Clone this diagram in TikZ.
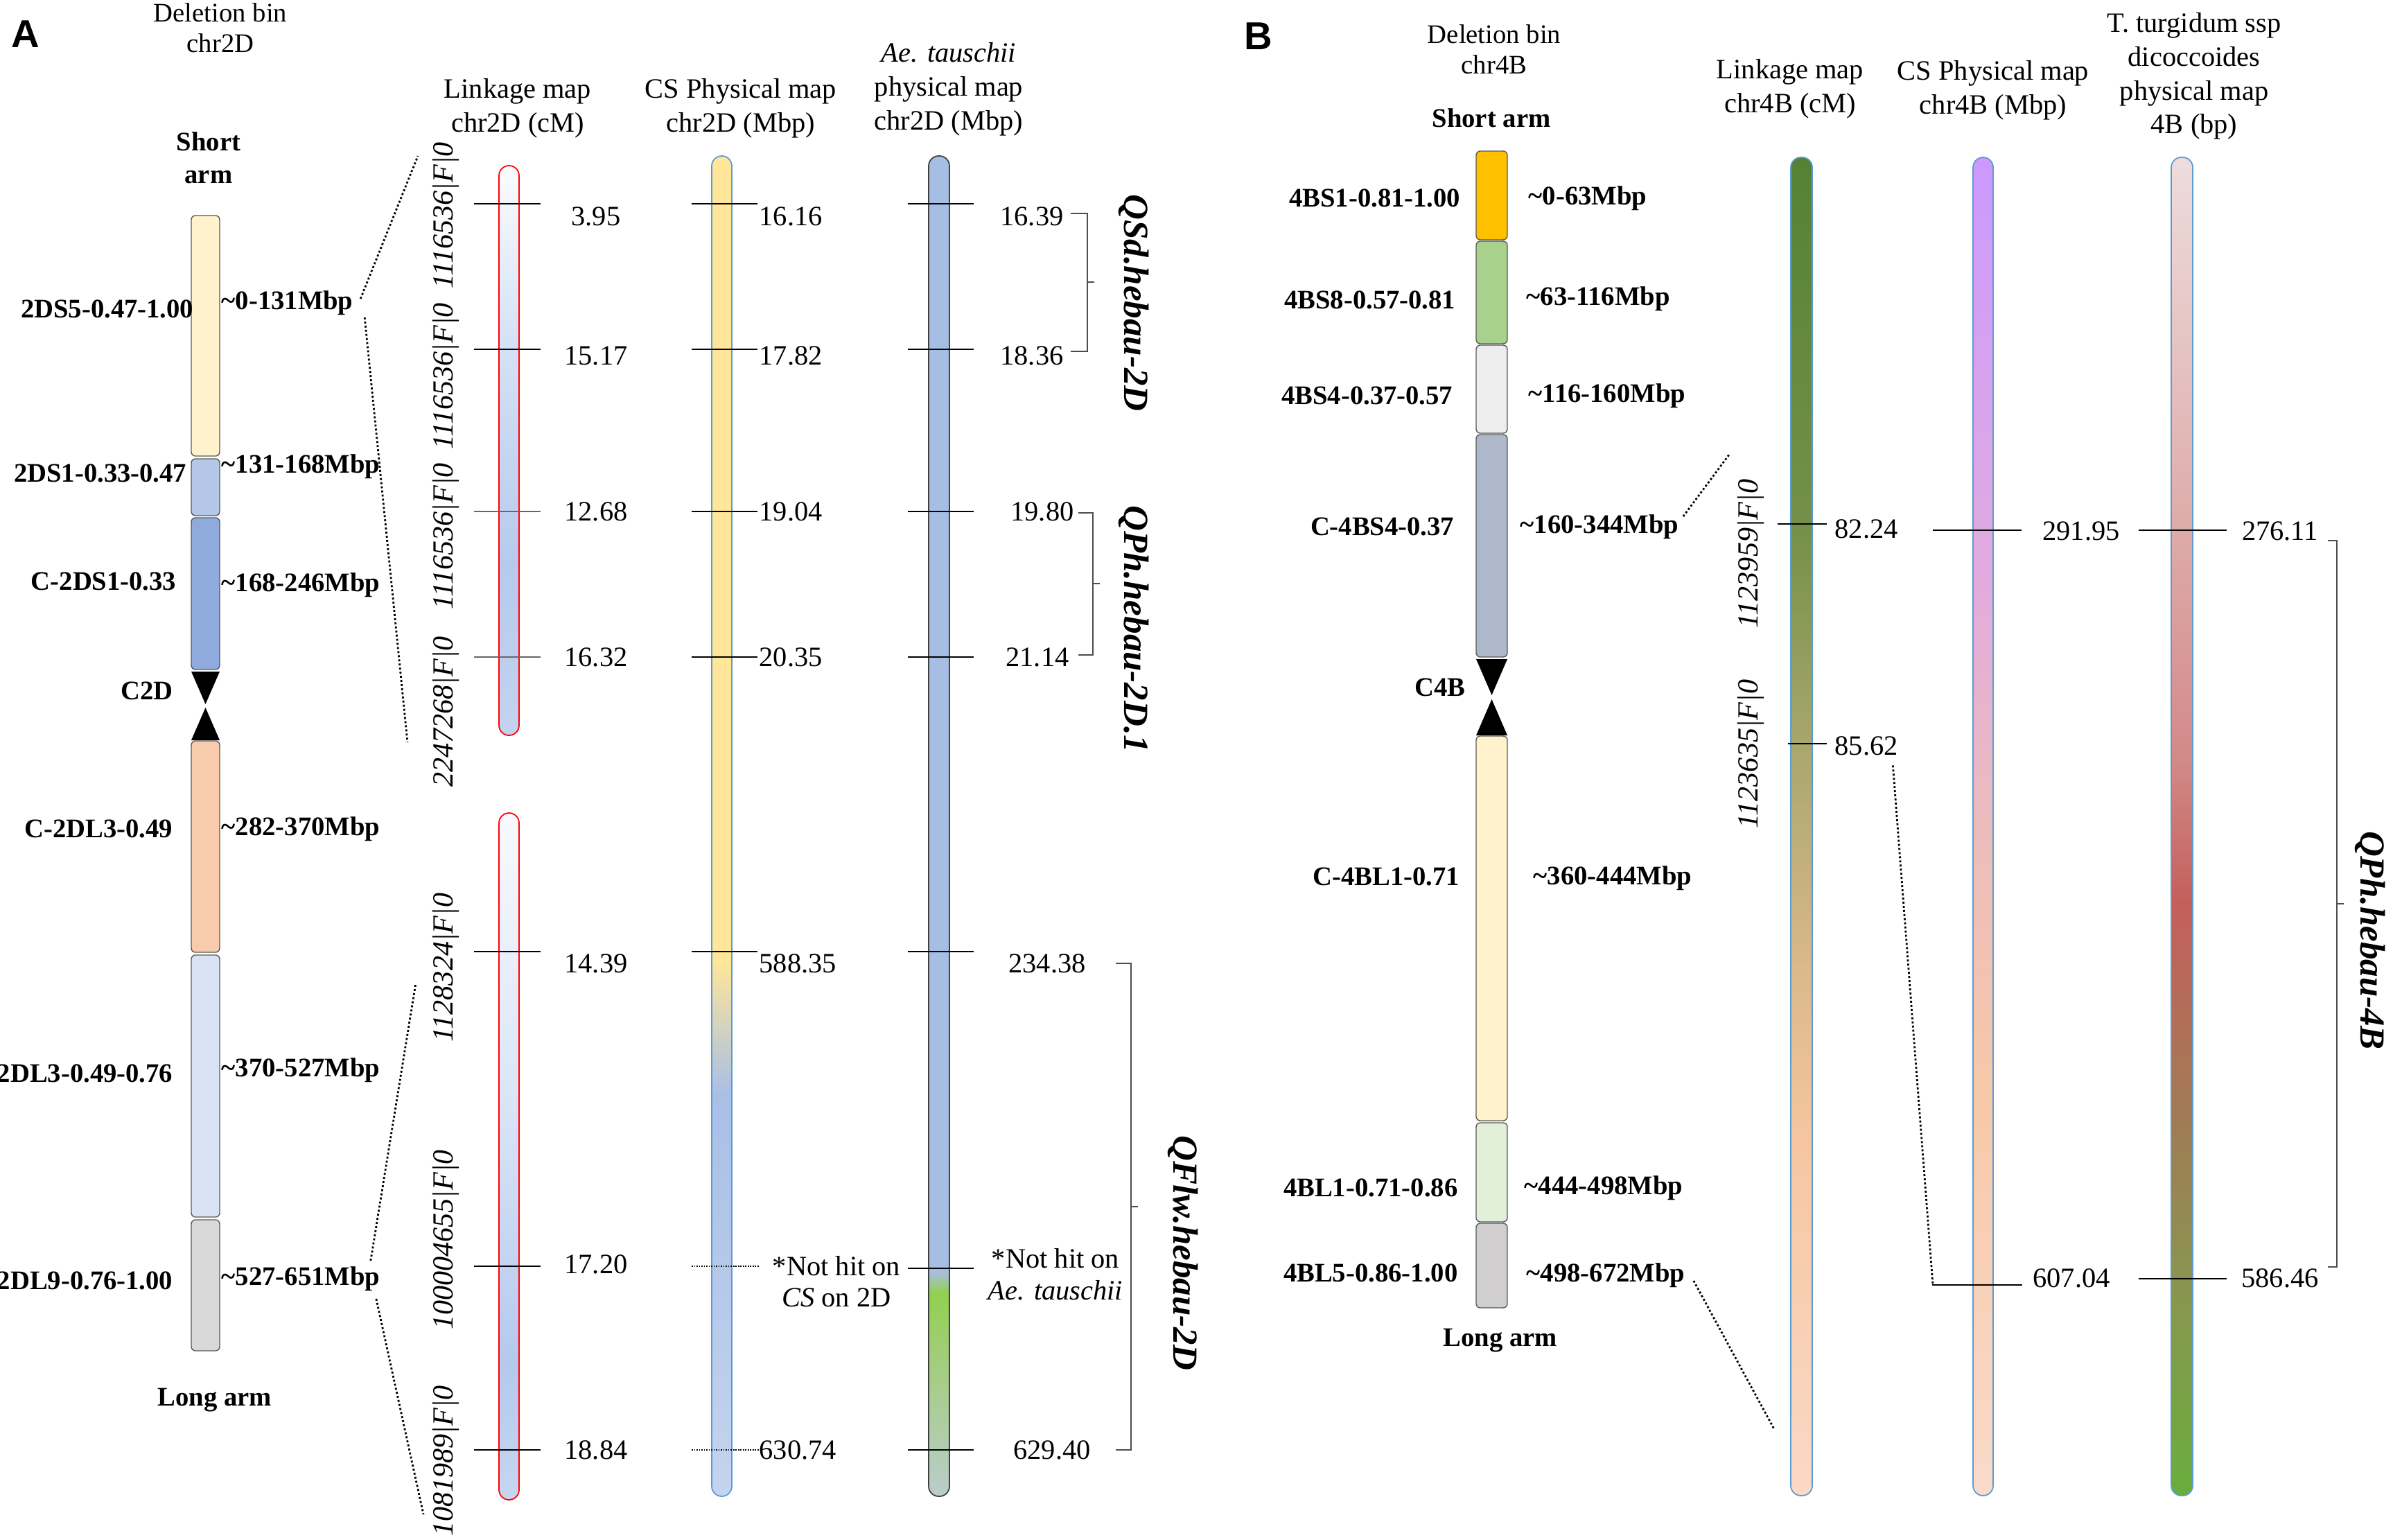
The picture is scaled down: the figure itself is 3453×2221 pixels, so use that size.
\documentclass[tikz,border=0pt]{standalone}
\usepackage{fontspec}
\setmainfont{Liberation Serif}
\newfontfamily\panelfont{Liberation Sans}
\usetikzlibrary{calc,positioning}

% deletion bin colours
\definecolor{binyellow}{HTML}{FFF2CC}
\definecolor{binblue}{HTML}{B4C7E7}
\definecolor{bindblue}{HTML}{8FAADC}
\definecolor{binpeach}{HTML}{F8CBAD}
\definecolor{binlblue}{HTML}{DAE3F3}
\definecolor{bingrey}{HTML}{D9D9D9}
\definecolor{binorange}{HTML}{FFC000}
\definecolor{bingreen}{HTML}{A9D18E}
\definecolor{binlgrey}{HTML}{EDEDED}
\definecolor{binslate}{HTML}{ADB9CA}
\definecolor{binlgreen}{HTML}{E2F0D9}
\definecolor{binmgrey}{HTML}{D0CECE}
\definecolor{mapblue}{HTML}{5B9BD5}
\definecolor{aeline}{HTML}{404040}

% map bar colours
\definecolor{lkAa}{HTML}{C3D3EF}
\definecolor{lkAb}{HTML}{B7CAEC}
\definecolor{lkAc}{HTML}{D6E2F6}
\definecolor{lkAd}{HTML}{FAFCFF}
\definecolor{lkBa}{HTML}{C6D6F1}
\definecolor{lkBb}{HTML}{B5C9EE}
\definecolor{lkBc}{HTML}{DCE6F7}
\definecolor{lkBd}{HTML}{F7FAFF}
\definecolor{csAa}{HTML}{C4D4EF}
\definecolor{csAb}{HTML}{A9BFE6}
\definecolor{csAc}{HTML}{FFE699}
\definecolor{aeAa}{HTML}{BACDCB}
\definecolor{aeAb}{HTML}{A3CD7E}
\definecolor{aeAc}{HTML}{92D050}
\definecolor{aeAd}{HTML}{A7BEE4}
\definecolor{lfBa}{HTML}{FAD9C6}
\definecolor{lfBb}{HTML}{F6C6A2}
\definecolor{lfBc}{HTML}{DBB98B}
\definecolor{lfBd}{HTML}{A8A76C}
\definecolor{lfBe}{HTML}{759049}
\definecolor{lfBf}{HTML}{548235}
\definecolor{csBa}{HTML}{FADACA}
\definecolor{csBb}{HTML}{F7C8A8}
\definecolor{csBc}{HTML}{ECBCBC}
\definecolor{csBd}{HTML}{E0AAE0}
\definecolor{csBe}{HTML}{CC99FF}
\definecolor{tdBa}{HTML}{6AAD3D}
\definecolor{tdBb}{HTML}{8A9450}
\definecolor{tdBc}{HTML}{A27A55}
\definecolor{tdBd}{HTML}{C45F5C}
\definecolor{tdBe}{HTML}{D28988}
\definecolor{tdBf}{HTML}{DDABA9}
\definecolor{tdBg}{HTML}{EEDCDC}

\pgfdeclareverticalshading{linkAone}{100bp}{color(0bp)=(lkAa); color(25bp)=(lkAa); color(40bp)=(lkAb); color(60bp)=(lkAc); color(75bp)=(lkAd); color(100bp)=(lkAd)}
\pgfdeclareverticalshading{linkAtwo}{100bp}{color(0bp)=(lkBa); color(25bp)=(lkBa); color(35bp)=(lkBb); color(55bp)=(lkBc); color(75bp)=(lkBd); color(100bp)=(lkBd)}
\pgfdeclareverticalshading{physA}{100bp}{color(0bp)=(csAa); color(25bp)=(csAa); color(40bp)=(csAb); color(45bp)=(csAc); color(75bp)=(csAc); color(100bp)=(csAc)}
\pgfdeclareverticalshading{tauA}{100bp}{color(0bp)=(aeAa); color(25bp)=(aeAa); color(30bp)=(aeAb); color(32.6bp)=(aeAc); color(33.4bp)=(aeAd); color(75bp)=(aeAd); color(100bp)=(aeAd)}
\pgfdeclareverticalshading{linkB}{100bp}{color(0bp)=(lfBa); color(25bp)=(lfBa); color(38bp)=(lfBb); color(44.6bp)=(lfBc); color(53bp)=(lfBd); color(61bp)=(lfBe); color(75bp)=(lfBf); color(100bp)=(lfBf)}
\pgfdeclareverticalshading{physB}{100bp}{color(0bp)=(csBa); color(25bp)=(csBa); color(40bp)=(csBb); color(50bp)=(csBc); color(60bp)=(csBd); color(75bp)=(csBe); color(100bp)=(csBe)}
\pgfdeclareverticalshading{dicB}{100bp}{color(0bp)=(tdBa); color(25bp)=(tdBa); color(33bp)=(tdBb); color(39.4bp)=(tdBc); color(47.2bp)=(tdBd); color(52.4bp)=(tdBe); color(61bp)=(tdBf); color(75bp)=(tdBg); color(100bp)=(tdBg)}

\tikzstyle{panel}=[inner sep=0, font=\panelfont\fontsize{16}{18}\selectfont\bfseries]
\tikzstyle{bintitle}=[inner sep=0, align=center, font=\fontsize{11}{12.6}\selectfont]
\tikzstyle{head}=[inner sep=0, align=center, font=\fontsize{11.5}{13.9}\selectfont]
\tikzstyle{arm}=[inner sep=0, align=center, font=\fontsize{11}{13.4}\selectfont\bfseries]
\tikzstyle{bin}=[inner sep=0, font=\fontsize{11}{13}\selectfont\bfseries]
\tikzstyle{num}=[inner sep=0, font=\fontsize{11.5}{13}\selectfont]
\tikzstyle{marker}=[inner sep=0, rotate=90, font=\fontsize{12}{14}\selectfont\itshape]
\tikzstyle{qtl}=[inner sep=0, rotate=-90, font=\fontsize{14.5}{16}\selectfont\bfseries\itshape]
\tikzstyle{seg}=[draw=black!65, line width=0.4pt, rounded corners=0.6mm]
\tikzstyle{mapbar}=[line width=0.5pt, rounded corners=1.45mm]
\tikzstyle{tick}=[line width=0.8pt]
\tikzstyle{greytick}=[line width=0.6pt, draw=black!60]
\tikzstyle{thintick}=[line width=0.4pt, dash pattern=on 0.5pt off 0.5pt]
\tikzstyle{link}=[line width=0.8pt, dash pattern=on 0.8pt off 0.9pt]
\tikzstyle{brace}=[draw=black!70, line width=0.4pt]

\newcommand{\Mb}{\textasciitilde}

\begin{document}
\begin{tikzpicture}[x=0.1mm,y=-0.1mm]
\useasboundingbox (0,0) rectangle (3453,2221);

% ================= panel A =================
\node[panel] (pA) at (37,49) {A};
\node[bintitle] (delA) at (318,40) {Deletion bin\\chr2D};
\node[arm] (sarmA) at (301,228) {Short\\arm};
\node[arm] (larmA) at (310,2020) {Long arm};

% deletion bins chr2D
\draw[seg, fill=binyellow] (276,311) rectangle (317,658);
\draw[seg, fill=binblue] (276,662) rectangle (317,744);
\draw[seg, fill=bindblue] (276,747) rectangle (317,966);
\fill (276,969) -- (317,969) -- (296.5,1016) -- cycle;
\fill (296.5,1021) -- (317,1068) -- (276,1068) -- cycle;
\draw[seg, fill=binpeach] (276,1069) rectangle (317,1374);
\draw[seg, fill=binlblue] (276,1378) rectangle (317,1756);
\draw[seg, fill=bingrey] (276,1760) rectangle (317,1949);

\node[bin, anchor=east] (lA1) at (280,446) {2DS5-0.47-1.00};
\node[bin, anchor=east] (lA2) at (270,683) {2DS1-0.33-0.47};
\node[bin, anchor=east] (lA3) at (255,839) {C-2DS1-0.33};
\node[bin] (cenA) at (212,997) {C2D};
\node[bin, anchor=east] (lA4) at (250,1196) {C-2DL3-0.49};
\node[bin, anchor=east] (lA5) at (250,1549) {2DL3-0.49-0.76};
\node[bin, anchor=east] (lA6) at (250,1848) {2DL9-0.76-1.00};

\node[bin, anchor=west] (rA1) at (319,437) {\Mb0-131Mbp};
\node[bin, anchor=west] (rA2) at (319,673) {\Mb131-168Mbp};
\node[bin, anchor=west] (rA3) at (319,844) {\Mb168-246Mbp};
\node[bin, anchor=west] (rA4) at (319,1196) {\Mb282-370Mbp};
\node[bin, anchor=west] (rA5) at (319,1544) {\Mb370-527Mbp};
\node[bin, anchor=west] (rA6) at (319,1845) {\Mb527-651Mbp};

% map headers
\node[head] (hlkA) at (747,156) {Linkage map\\chr2D (cM)};
\node[head] (hcsA) at (1069,156) {CS Physical map\\chr2D (Mbp)};
\node[head] (haeA) at (1369,129) {\textit{Ae. tauschii}\\physical map\\chr2D (Mbp)};

% map bars
\draw[mapbar, draw=red, shading=linkAone] (720,239) rectangle (749,1061);
\draw[mapbar, draw=red, shading=linkAtwo] (720,1173) rectangle (749,2164);
\draw[mapbar, draw=mapblue, shading=physA] (1027,225) rectangle (1056,2159);
\draw[mapbar, draw=aeline, shading=tauA] (1340,225) rectangle (1370,2159);

% ticks
\foreach \y in {294,504,1373,1827,2092}
  \draw[tick] (684,\y) -- (780,\y);
\foreach \y in {738,948}
  \draw[greytick] (684,\y) -- (780,\y);
\foreach \y in {294,504,738,948,1373}
  \draw[tick] (998,\y) -- (1093,\y);
\foreach \y in {1827,2092}
  \draw[thintick] (998,\y) -- (1095,\y);
\foreach \y in {294,504,738,948,1373,1830,2092}
  \draw[tick] (1310,\y) -- (1405,\y);

% positions
\foreach \y/\v in {312/3.95, 513/15.17, 738/12.68, 948/16.32, 1390/14.39, 1824/17.20, 2092/18.84}
  \node[num] (cmA\y) at (860,\y) {\v};
\foreach \y/\v in {312/16.16, 513/17.82, 738/19.04, 948/20.35, 1390/588.35, 2092/630.74}
  \node[num, anchor=west] (csA\y) at (1095,\y) {\v};
\foreach \x/\y/\v in {1489/312/16.39, 1489/513/18.36, 1504/738/19.80, 1497/948/21.14, 1511/1390/234.38, 1518/2092/629.40}
  \node[num] (aeA\y) at (\x,\y) {\v};
\node[num, align=center] (nhcs) at (1207,1849) {*Not hit on\\\textit{CS} on 2D};
\node[num, align=center] (nhae) at (1523,1839) {*Not hit on\\\textit{Ae. tauschii}};

% markers
\node[marker] (mkA1) at (643,311) {1116536|F|0};
\node[marker] (mkA2) at (643,543) {1116536|F|0};
\node[marker] (mkA3) at (643,774) {1116536|F|0};
\node[marker] (mkA4) at (643,1027) {2247268|F|0};
\node[marker] (mkA5) at (643,1396) {1128324|F|0};
\node[marker] (mkA6) at (643,1789) {100004655|F|0};
\node[marker] (mkA7) at (643,2108) {1081989|F|0};

% zoom lines
\coordinate (zA1) at (603,225);
\coordinate (zA2) at (588,1071);
\coordinate (zA3) at (600,1418);
\coordinate (zA4) at (611,2185);
\draw[link] ($(rA1.east)+(10,-6)$) -- (zA1);
\draw[link] ($(rA1.east)+(16,21)$) -- (zA2);
\draw[link] ($(rA6.east)+(-14,-26)$) -- (zA3);
\draw[link] ($(rA6.east)+(-6,29)$) -- (zA4);

% QTL
\draw[brace] (1545,308) -- (1569,308) -- (1569,507) -- (1545,507);
\draw[brace] (1569,407) -- (1579,407);
\node[qtl] (qA1) at (1636,437) {QSd.hebau-2D};
\draw[brace] (1556,740) -- (1577,740) -- (1577,945) -- (1556,945);
\draw[brace] (1577,842) -- (1587,842);
\node[qtl] (qA2) at (1636,908) {QPh.hebau-2D.1};
\draw[brace] (1610,1390) -- (1632,1390) -- (1632,2092) -- (1610,2092);
\draw[brace] (1632,1741) -- (1642,1741);
\node[qtl] (qA3) at (1707,1808) {QFlw.hebau-2D};

% ================= panel B =================
\node[panel] (pB) at (1816,52) {B};
\node[bintitle] (delB) at (2156,71) {Deletion bin\\chr4B};
\node[arm] (sarmB) at (2152,170) {Short arm};
\node[arm] (larmB) at (2165,1934) {Long arm};

% deletion bins chr4B
\draw[seg, fill=binorange] (2130,218) rectangle (2175,346);
\draw[seg, fill=bingreen] (2130,348) rectangle (2175,496);
\draw[seg, fill=binlgrey] (2130,498) rectangle (2175,625);
\draw[seg, fill=binslate] (2130,627) rectangle (2175,948);
\fill (2130,951) -- (2175,951) -- (2152.5,1003) -- cycle;
\fill (2152.5,1009) -- (2175,1061) -- (2130,1061) -- cycle;
\draw[seg, fill=binyellow] (2130,1062) rectangle (2175,1617);
\draw[seg, fill=binlgreen] (2130,1620) rectangle (2175,1763);
\draw[seg, fill=binmgrey] (2130,1765) rectangle (2175,1887);

\node[bin, anchor=east] (lB1) at (2108,286) {4BS1-0.81-1.00};
\node[bin, anchor=east] (lB2) at (2101,433) {4BS8-0.57-0.81};
\node[bin, anchor=east] (lB3) at (2097,571) {4BS4-0.37-0.57};
\node[bin, anchor=east] (lB4) at (2099,760) {C-4BS4-0.37};
\node[bin] (cenB) at (2078,992) {C4B};
\node[bin, anchor=east] (lB5) at (2107,1265) {C-4BL1-0.71};
\node[bin, anchor=east] (lB6) at (2104,1714) {4BL1-0.71-0.86};
\node[bin, anchor=east] (lB7) at (2104,1837) {4BL5-0.86-1.00};

\node[bin, anchor=west] (rB1) at (2205,286) {\Mb0-63Mbp};
\node[bin, anchor=west] (rB2) at (2202,431) {\Mb63-116Mbp};
\node[bin, anchor=west] (rB3) at (2205,571) {\Mb116-160Mbp};
\node[bin, anchor=west] (rB4) at (2193,760) {\Mb160-344Mbp};
\node[bin, anchor=west] (rB5) at (2212,1267) {\Mb360-444Mbp};
\node[bin, anchor=west] (rB6) at (2199,1714) {\Mb444-498Mbp};
\node[bin, anchor=west] (rB7) at (2202,1840) {\Mb498-672Mbp};

% map headers
\node[head] (hlkB) at (2583,128) {Linkage map\\chr4B (cM)};
\node[head] (hcsB) at (2876,130) {CS Physical map\\chr4B (Mbp)};
\node[head] (htdB) at (3166,110) {T. turgidum ssp\\dicoccoides\\physical map\\4B (bp)};

% map bars
\draw[mapbar, draw=mapblue, shading=linkB] (2584,227) rectangle (2615,2158);
\draw[mapbar, draw=mapblue, shading=physB] (2847,227) rectangle (2876,2158);
\draw[mapbar, draw=mapblue, shading=dicB] (3133,227) rectangle (3164,2158);

% ticks
\draw[tick] (2565,756) -- (2636,756);
\draw[tick] (2580,1073) -- (2636,1073);
\draw[tick] (2789,765) -- (2917,765);
\draw[tick] (3086,765) -- (3213,765);
\draw[tick] (2788,1854) -- (2918,1854);
\draw[tick] (3086,1845) -- (3213,1845);

\node[num, anchor=west] (cmB1) at (2647,763) {82.24};
\node[num, anchor=west] (cmB2) at (2647,1076) {85.62};
\node[num] (csB1) at (3003,766) {291.95};
\node[num] (tdB1) at (3290,766) {276.11};
\node[num] (csB2) at (2989,1844) {607.04};
\node[num] (tdB2) at (3290,1844) {586.46};

\node[marker] (mkB1) at (2526,799) {1123959|F|0};
\node[marker] (mkB2) at (2526,1088) {1123635|F|0};

% zoom lines
\coordinate (zB1) at (2495,656);
\coordinate (zB2) at (2560,2062);
\coordinate (zB3) at (2789,1854);
\draw[link] ($(rB4.east)+(6,-15)$) -- (zB1);
\draw[link] ($(rB7.east)+(12,8)$) -- (zB2);
\draw[link] ($(cmB2.south east)+(-8,14)$) -- (zB3);

% QTL
\draw[brace] (3359,780) -- (3372,780) -- (3372,1828) -- (3359,1828);
\draw[brace] (3372,1304) -- (3382,1304);
\node[qtl] (qB1) at (3420,1357) {QPh.hebau-4B};

\end{tikzpicture}
\end{document}
